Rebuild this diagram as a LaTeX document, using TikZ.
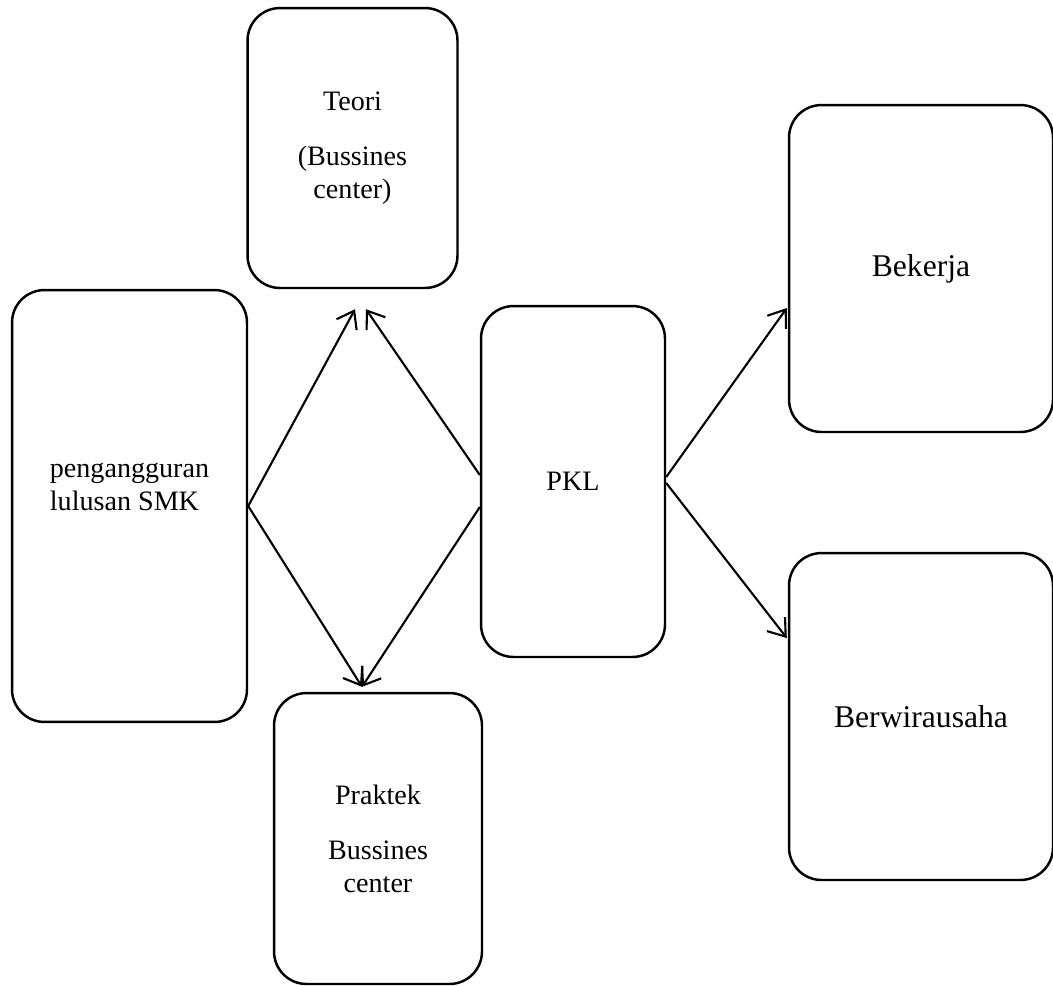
\documentclass[tikz,border=0pt]{standalone}
\usepackage{fontspec}
\setmainfont{Liberation Serif}
\usetikzlibrary{arrows.meta}
\newcommand{\rad}{0.65cm}
\newcommand{\boxfont}{\fontsize{16}{18.5}\selectfont}
\newcommand{\bigfont}{\fontsize{18}{21}\selectfont}
\newcommand{\gap}{13pt}

\begin{document}
\begin{tikzpicture}[x=0.02cm, y=-0.02cm, >={Straight Barb[length=9pt, width=13pt]},
    box/.style={draw, line width=1.4pt, rounded corners=\rad, inner sep=0pt, font=\boxfont, align=center},
    arr/.style={->, line width=1.2pt}]
    \useasboundingbox (0, 0) rectangle (1053, 985);

    % boxes
    \node [box, minimum width=4.2cm, minimum height=5.6cm] (teori) at (352.5, 148) {Teori\\[\gap](Bussines\\center)};
    \node [box, minimum width=4.7cm, minimum height=8.64cm] (peng) at (129.5, 506) {};
    \node [font=\boxfont, align=left] (peng-text) at (129.5, 487) {pengangguran\\lulusan SMK};
    \node [box, minimum width=3.68cm, minimum height=7.02cm] (pkl) at (573, 481.5) {PKL};
    \node [box, minimum width=4.16cm, minimum height=5.82cm] (praktek) at (378, 838.5) {Praktek\\[\gap]Bussines\\center};
    \node [box, font=\bigfont, minimum width=5.28cm, minimum height=6.54cm] (bekerja) at (921, 268.5) {Bekerja};
    \node [box, font=\bigfont, minimum width=5.28cm, minimum height=6.54cm] (berwira) at (921, 716.5) {Berwirausaha};

    % arrow ends
    \coordinate (teori-l) at ([shift={(2.5, 20)}]teori.south);
    \coordinate (teori-r) at ([shift={(13.5, 20)}]teori.south);
    \coordinate (praktek-in) at ([shift={(-16, -5)}]praktek.north);
    \coordinate (bekerja-in) at ([shift={(-1, 39.5)}]bekerja.west);
    \coordinate (berwira-in) at ([shift={(-1, -78.5)}]berwira.west);

    % arrows
    \draw [arr] (peng.east) -- (teori-l);
    \draw [arr] (peng.east) -- (praktek-in);
    \draw [arr] ([shift={(0, -6.5)}]pkl.west) -- (teori-r);
    \draw [arr] ([shift={(0, 25.5)}]pkl.west) -- (praktek-in);
    \draw [arr] ([shift={(0, -4.5)}]pkl.east) -- (bekerja-in);
    \draw [arr] ([shift={(0, 1.5)}]pkl.east) -- (berwira-in);
\end{tikzpicture}
\end{document}
